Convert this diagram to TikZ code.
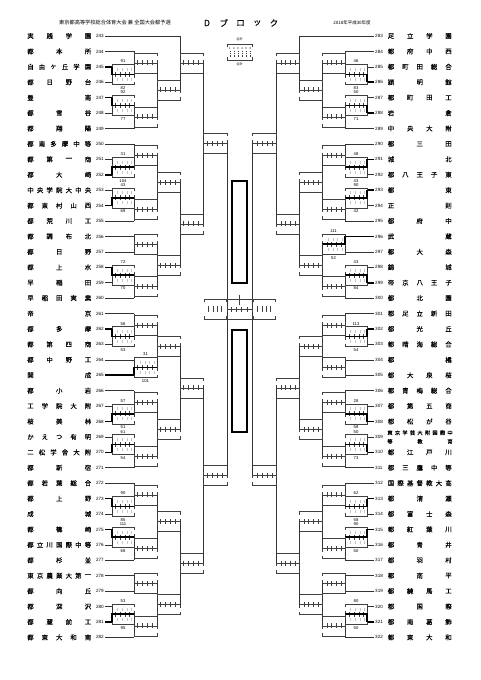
\documentclass[tikz,border=0pt]{standalone}
\usepackage{fontspec}
\setmainfont{Liberation Sans}
\newfontfamily\jp{Noto Sans CJK JP}
\newfontfamily\jpb[FakeBold=0.12]{Noto Sans CJK JP}
\newcount\nch
\newcommand\setY[2]{\expandafter\xdef\csname yy@#1\endcsname{#2}}
\newcommand\getY[1]{\csname yy@#1\endcsname}
\newcommand\spread[6]{%
  \global\nch=0
  \foreach \ch in {#6}{\global\advance\nch by 1\relax}%
  \foreach \ch [count=\k] in {#6}{%
    \pgfmathsetmacro\xx{#2+(\k-1)*(#3-#2)/(\the\nch-1)}%
    \node[#5] (#1-\k) at (\xx,#4) {\ch};
  }%
}
\newcommand\scorebox[3]{%
  \draw[bx] (#1,#3-7) -- (#1,#3-10) -- (#2,#3-10) -- (#2,#3-7);
  \draw[bx] (#1,#3+7) -- (#1,#3+10) -- (#2,#3+10) -- (#2,#3+7);
  \draw[bx] (#1,#3) -- (#2,#3);
  \draw[bx] (#1,#3-3) -- (#1,#3+3) (#2,#3-3) -- (#2,#3+3);
  \foreach \t in {0,1,2,3}{\draw[bx] ({#1+(#2-#1)*(0.16+0.21*\t)},#3-2.5) -- ++(0,5);}
}
\newcommand\mtch[6]{%
  \pgfmathsetmacro\ya{\getY{#4}}%
  \pgfmathsetmacro\yb{\getY{#5}}%
  \pgfmathsetmacro\ym{(\ya+\yb)/2}%
  \setY{#1}{\ym}%
  \coordinate (#1) at (#3,\ym);
  \coordinate (#1-a) at (#2,\ya);
  \coordinate (#1-b) at (#2,\yb);
  \draw[br] (#1-a) -- (#1-b);
  \scorebox{#2}{#3}{\ym}%
  \ifcase#6\or\draw[win] (#1-a) -- (#2,\ym) -- (#1);\or\draw[win] (#1-b) -- (#2,\ym) -- (#1);\fi
}
\newcommand\alab[5]{%
  \pgfmathsetmacro\yc{\getY{#3}}%
  \node[gno] (#3-top) at ({(#1+#2)/2},\yc-13) {#4};
  \node[gno] (#3-bot) at ({(#1+#2)/2},\yc+13.5) {#5};
  \foreach \t in {0,1,2,3}{%
    \draw[grid] ({#1+(#2-#1)*(0.26+0.21*\t)},\yc-6.5) -- ++(0,3);
    \draw[grid] ({#1+(#2-#1)*(0.26+0.21*\t)},\yc+3.5) -- ++(0,3);}
}
\newcommand\lteam[5]{%
  \pgfmathsetmacro\ty{\getY{L#1}}%
  \coordinate (ln#2) at (105,\ty);
  \coordinate (lt#2) at (#3,\ty);
  \draw[#4] (ln#2) -- (lt#2);
  \node[numl,anchor=east] (lnum#2) at (104,\ty) {#2};
  \spread{lname#2}{30.5}{88}{\ty}{namech}{#5}%
}
\newcommand\rteam[5]{%
  \pgfmathsetmacro\ty{\getY{R#1}}%
  \coordinate (rn#2) at (374,\ty);
  \coordinate (rt#2) at (#3,\ty);
  \draw[#4] (rn#2) -- (rt#2);
  \node[numl,anchor=west] (rnum#2) at (375,\ty) {#2};
  \ifx&#5&\else\spread{rname#2}{391}{448.5}{\ty}{namech}{#5}\fi
}
\begin{document}
\begin{tikzpicture}[x=1pt,y=-1pt,
  br/.style={line width=0.6pt, draw=black!80},
  bx/.style={line width=0.5pt, draw=black!75},
  win/.style={line width=1.6pt, draw=black},
  grid/.style={line width=0.5pt, draw=black!22},
  namech/.style={font=\jpb\fontsize{6.4}{7}\selectfont, inner sep=0pt, anchor=center},
  smallch/.style={font=\jpb\fontsize{5.2}{6}\selectfont, inner sep=0pt, anchor=center},
  blkfont/.style={font=\jpb\fontsize{8.5}{9}\selectfont, inner sep=0pt, anchor=center},
  numl/.style={font=\fontsize{4.6}{5}\selectfont, inner sep=0pt},
  gno/.style={font=\fontsize{4.2}{5}\selectfont, inner sep=0pt},
  tinyjp/.style={font=\jp\fontsize{3.2}{4}\selectfont, inner sep=0pt},
]
\useasboundingbox (0,0) rectangle (481,680);
\fill[white] (0,0) rectangle (481,680);
\foreach \i in {0,...,39}{\pgfmathsetmacro\t{36+15.42*\i}\setY{L\i}{\t}\setY{R\i}{\t}}

% header
\node[font=\jp\fontsize{5.2}{6}\selectfont, inner sep=0pt] (hdr) at (115,23) {東京都高等学校総合体育大会 兼 全国大会都予選};
\spread{blk}{207}{274}{23}{blkfont}{D,ブ,ロ,ッ,ク}
\node[font=\jp\fontsize{4.5}{5}\selectfont, inner sep=0pt] (yr) at (352,23) {2018年平成30年度};

% legend
\node[tinyjp] (lgt) at (239.5,39.5) {合計};
\draw[bx] (227,47) -- (227,44) -- (252,44) -- (252,47);
\foreach \t [count=\n] in {0,...,5}{\node[font=\fontsize{2.8}{3}\selectfont, inner sep=0pt] (lgd\n) at (229.8+\t*4.1,48.5) {\n};
  \draw[bx, dash pattern=on 1pt off 0.8pt] (229.8+\t*4.1,51) -- ++(0,6);}
\draw[bx] (227,57) -- (227,60) -- (252,60) -- (252,57);
\node[tinyjp] (lgb) at (239.5,64) {合計};

% left teams
\lteam{0}{243}{180}{br}{実,践,学,園}
\lteam{1}{244}{134}{br}{都,本,所}
\lteam{2}{245}{112}{win}{自,由,ヶ,丘,学,園}
\lteam{3}{246}{112}{br}{都,日,野,台}
\lteam{4}{247}{112}{win}{豊,南}
\lteam{5}{248}{112}{br}{都,雪,谷}
\lteam{6}{249}{134}{br}{都,翔,陽}
\lteam{7}{250}{134}{br}{都,南,多,摩,中,等}
\lteam{8}{251}{112}{br}{都,第,一,商}
\lteam{9}{252}{112}{win}{都,大,崎}
\lteam{10}{253}{112}{br}{中,央,学,院,大,中,央}
\lteam{11}{254}{112}{win}{都,東,村,山,西}
\lteam{12}{255}{134}{br}{都,荒,川,工}
\lteam{13}{256}{134}{br}{都,調,布,北}
\lteam{14}{257}{134}{br}{都,日,野}
\lteam{15}{258}{112}{win}{都,上,水}
\lteam{16}{259}{112}{br}{早,稲,田}
\lteam{17}{260}{134}{br}{早,稲,田,実,業}
\lteam{18}{261}{134}{br}{帝,京}
\lteam{19}{262}{112}{win}{都,多,摩}
\lteam{20}{263}{112}{br}{都,第,四,商}
\lteam{21}{264}{134}{br}{都,中,野,工}
\lteam{22}{265}{134}{win}{開,成}
\lteam{23}{266}{134}{br}{都,小,岩}
\lteam{24}{267}{112}{br}{工,学,院,大,附}
\lteam{25}{268}{112}{win}{桜,美,林}
\lteam{26}{269}{112}{br}{か,え,つ,有,明}
\lteam{27}{270}{112}{win}{二,松,学,舎,大,附}
\lteam{28}{271}{134}{br}{都,新,宿}
\lteam{29}{272}{134}{br}{都,若,葉,総,合}
\lteam{30}{273}{112}{win}{都,上,野}
\lteam{31}{274}{112}{br}{成,城}
\lteam{32}{275}{112}{win}{都,篠,崎}
\lteam{33}{276}{112}{br}{都,立,川,国,際,中,等}
\lteam{34}{277}{134}{br}{都,杉,並}
\lteam{35}{278}{134}{br}{東,京,農,業,大,第,一}
\lteam{36}{279}{134}{br}{都,向,丘}
\lteam{37}{280}{112}{br}{都,深,沢}
\lteam{38}{281}{112}{win}{都,蔵,前,工}
\lteam{39}{282}{134}{br}{都,東,大,和,南}

% right teams
\rteam{0}{283}{299}{br}{足,立,学,園}
\rteam{1}{284}{345}{br}{都,府,中,西}
\rteam{2}{285}{367}{br}{都,町,田,総,合}
\rteam{3}{286}{367}{win}{穎,明,館}
\rteam{4}{287}{367}{br}{都,町,田,工}
\rteam{5}{288}{367}{win}{岩,倉}
\rteam{6}{289}{345}{br}{中,央,大,附}
\rteam{7}{290}{345}{br}{都,三,田}
\rteam{8}{291}{367}{win}{城,北}
\rteam{9}{292}{367}{br}{都,八,王,子,東}
\rteam{10}{293}{367}{win}{都,東}
\rteam{11}{294}{367}{br}{正,則}
\rteam{12}{295}{345}{br}{都,府,中}
\rteam{13}{296}{345}{win}{武,蔵}
\rteam{14}{297}{345}{br}{都,大,森}
\rteam{15}{298}{367}{br}{錦,城}
\rteam{16}{299}{367}{win}{帝,京,八,王,子}
\rteam{17}{300}{345}{br}{都,北,園}
\rteam{18}{301}{345}{br}{都,足,立,新,田}
\rteam{19}{302}{367}{win}{都,光,丘}
\rteam{20}{303}{367}{br}{都,晴,海,総,合}
\rteam{21}{304}{345}{br}{都,橘}
\rteam{22}{305}{345}{br}{都,大,泉,桜}
\rteam{23}{306}{345}{br}{都,青,梅,総,合}
\rteam{24}{307}{367}{br}{都,第,五,商}
\rteam{25}{308}{367}{win}{都,松,が,谷}
\rteam{26}{309}{367}{br}{}
\spread{rname309a}{390}{450}{432.8}{smallch}{東,京,学,芸,大,附,国,際,中}
\spread{rname309b}{390}{450}{441.5}{smallch}{等,教,育}
\rteam{27}{310}{367}{win}{都,江,戸,川}
\rteam{28}{311}{345}{br}{都,三,鷹,中,等}
\rteam{29}{312}{345}{br}{国,際,基,督,教,大,高}
\rteam{30}{313}{367}{win}{都,清,瀬}
\rteam{31}{314}{367}{br}{都,富,士,森}
\rteam{32}{315}{367}{win}{都,紅,葉,川}
\rteam{33}{316}{367}{br}{都,青,井}
\rteam{34}{317}{345}{br}{都,羽,村}
\rteam{35}{318}{345}{br}{都,南,平}
\rteam{36}{319}{345}{br}{都,練,馬,工}
\rteam{37}{320}{367}{br}{都,国,際}
\rteam{38}{321}{367}{win}{都,南,葛,飾}
\rteam{39}{322}{345}{br}{都,東,大,和}

% left bracket
\mtch{La1}{112}{134}{L2}{L3}{1}
\mtch{La2}{112}{134}{L4}{L5}{1}
\mtch{La3}{112}{134}{L8}{L9}{2}
\mtch{La4}{112}{134}{L10}{L11}{2}
\mtch{La5}{112}{134}{L15}{L16}{1}
\mtch{La6}{112}{134}{L19}{L20}{1}
\mtch{La7}{112}{134}{L24}{L25}{2}
\mtch{La8}{112}{134}{L26}{L27}{2}
\mtch{La9}{112}{134}{L30}{L31}{1}
\mtch{La10}{112}{134}{L32}{L33}{1}
\mtch{La11}{112}{134}{L37}{L38}{2}
\mtch{Lb1}{134}{157}{L1}{La1}{0}
\mtch{Lb2}{134}{157}{La2}{L6}{0}
\mtch{Lb3}{134}{157}{L7}{La3}{0}
\mtch{Lb4}{134}{157}{La4}{L12}{0}
\mtch{Lb5}{134}{157}{L13}{L14}{0}
\mtch{Lb6}{134}{157}{La5}{L17}{0}
\mtch{Lb7}{134}{157}{L18}{La6}{0}
\mtch{Lb8}{134}{157}{L21}{L22}{2}
\mtch{Lb9}{134}{157}{L23}{La7}{0}
\mtch{Lb10}{134}{157}{La8}{L28}{0}
\mtch{Lb11}{134}{157}{L29}{La9}{0}
\mtch{Lb12}{134}{157}{La10}{L34}{0}
\mtch{Lb13}{134}{157}{L35}{L36}{0}
\mtch{Lb14}{134}{157}{La11}{L39}{0}
\mtch{Lc1}{157}{180}{Lb1}{Lb2}{0}
\mtch{Lc2}{157}{180}{Lb3}{Lb4}{0}
\mtch{Lc3}{157}{180}{Lb5}{Lb6}{0}
\mtch{Lc4}{157}{180}{Lb7}{Lb8}{0}
\mtch{Lc5}{157}{180}{Lb9}{Lb10}{0}
\mtch{Lc6}{157}{180}{Lb11}{Lb12}{0}
\mtch{Lc7}{157}{180}{Lb13}{Lb14}{0}
\mtch{Ld1}{180}{203}{L0}{Lc1}{0}
\mtch{Ld2}{180}{203}{Lc2}{Lc3}{0}
\mtch{Ld3}{180}{203}{Lc4}{Lc5}{0}
\mtch{Ld4}{180}{203}{Lc6}{Lc7}{0}
\mtch{Le1}{203}{227}{Ld1}{Ld2}{0}
\mtch{Le2}{203}{227}{Ld3}{Ld4}{0}

% right bracket
\mtch{Ra1}{367}{345}{R2}{R3}{2}
\mtch{Ra2}{367}{345}{R4}{R5}{2}
\mtch{Ra3}{367}{345}{R8}{R9}{1}
\mtch{Ra4}{367}{345}{R10}{R11}{1}
\mtch{Ra5}{367}{345}{R15}{R16}{2}
\mtch{Ra6}{367}{345}{R19}{R20}{1}
\mtch{Ra7}{367}{345}{R24}{R25}{2}
\mtch{Ra8}{367}{345}{R26}{R27}{2}
\mtch{Ra9}{367}{345}{R30}{R31}{1}
\mtch{Ra10}{367}{345}{R32}{R33}{1}
\mtch{Ra11}{367}{345}{R37}{R38}{2}
\mtch{Rb1}{345}{322}{R1}{Ra1}{0}
\mtch{Rb2}{345}{322}{Ra2}{R6}{0}
\mtch{Rb3}{345}{322}{R7}{Ra3}{0}
\mtch{Rb4}{345}{322}{Ra4}{R12}{0}
\mtch{Rb5}{345}{322}{R13}{R14}{1}
\mtch{Rb6}{345}{322}{Ra5}{R17}{0}
\mtch{Rb7}{345}{322}{R18}{Ra6}{0}
\mtch{Rb8}{345}{322}{R21}{R22}{0}
\mtch{Rb9}{345}{322}{R23}{Ra7}{0}
\mtch{Rb10}{345}{322}{Ra8}{R28}{0}
\mtch{Rb11}{345}{322}{R29}{Ra9}{0}
\mtch{Rb12}{345}{322}{Ra10}{R34}{0}
\mtch{Rb13}{345}{322}{R35}{R36}{0}
\mtch{Rb14}{345}{322}{Ra11}{R39}{0}
\mtch{Rc1}{322}{299}{Rb1}{Rb2}{0}
\mtch{Rc2}{322}{299}{Rb3}{Rb4}{0}
\mtch{Rc3}{322}{299}{Rb5}{Rb6}{0}
\mtch{Rc4}{322}{299}{Rb7}{Rb8}{0}
\mtch{Rc5}{322}{299}{Rb9}{Rb10}{0}
\mtch{Rc6}{322}{299}{Rb11}{Rb12}{0}
\mtch{Rc7}{322}{299}{Rb13}{Rb14}{0}
\mtch{Rd1}{299}{276}{R0}{Rc1}{0}
\mtch{Rd2}{299}{276}{Rc2}{Rc3}{0}
\mtch{Rd3}{299}{276}{Rc4}{Rc5}{0}
\mtch{Rd4}{299}{276}{Rc6}{Rc7}{0}
\mtch{Re1}{276}{252}{Rd1}{Rd2}{0}
\mtch{Re2}{276}{252}{Rd3}{Rd4}{0}

% score labels
\alab{112}{134}{La1}{91}{82}
\alab{112}{134}{La2}{92}{77}
\alab{112}{134}{La3}{31}{104}
\alab{112}{134}{La4}{43}{69}
\alab{112}{134}{La5}{72}{70}
\alab{112}{134}{La6}{56}{53}
\alab{134}{157}{Lb8}{31}{101}
\alab{112}{134}{La7}{57}{51}
\alab{112}{134}{La8}{61}{54}
\alab{112}{134}{La9}{90}{85}
\alab{112}{134}{La10}{111}{68}
\alab{112}{134}{La11}{53}{95}
\alab{345}{367}{Ra1}{46}{83}
\alab{345}{367}{Ra2}{50}{71}
\alab{345}{367}{Ra3}{48}{43}
\alab{345}{367}{Ra4}{90}{42}
\alab{322}{345}{Rb5}{111}{52}
\alab{345}{367}{Ra5}{43}{84}
\alab{345}{367}{Ra6}{113}{54}
\alab{345}{367}{Ra7}{28}{58}
\alab{345}{367}{Ra8}{50}{73}
\alab{345}{367}{Ra9}{62}{58}
\alab{345}{367}{Ra10}{90}{50}
\alab{345}{367}{Ra11}{80}{50}

% semifinals and final
\pgfmathsetmacro\yF{(\getY{Le1}+\getY{Le2})/2}
\coordinate (fin) at (239.5,\yF);
\draw[br] (Le1) -- (Le2);
\draw[br] (Re1) -- (Re2);
\foreach \xa/\xb in {204/226,253/275}{%
  \draw[bx] (\xa,\yF-7) -- (\xa,\yF-10) -- (\xb,\yF-10) -- (\xb,\yF-7);
  \draw[bx] (\xa,\yF+7) -- (\xa,\yF+10) -- (\xb,\yF+10) -- (\xb,\yF+7);
  \foreach \t in {0,1,2,3}{\draw[bx] ({\xa+(\xb-\xa)*(0.2+0.2*\t)},\yF-3) -- ++(0,6);}}
\scorebox{227}{252}{\yF}
\draw[bx] (fin) ++(0,-4) -- ++(0,-10);

% champion boxes
\draw[line width=1.1pt] (232,181) rectangle (247,283);
\draw[line width=1.1pt] (232,330) rectangle (247,432);
\end{tikzpicture}
\end{document}
